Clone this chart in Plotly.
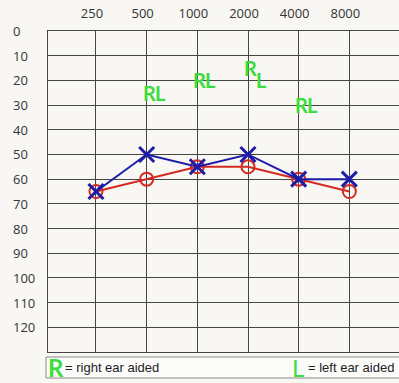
import plotly.graph_objects as go

freqs = ["250", "500", "1000", "2000", "4000", "8000"]
db_ticks = [0, 10, 20, 30, 40, 50, 60, 70, 80, 90, 100, 110, 120]
right_ear = [65, 60, 55, 55, 60, 65]   # red O
left_ear = [65, 50, 55, 50, 60, 60]    # blue X
aided_freq_idx = [1, 2, 3, 4]
right_aided = [25, 20, 15, 30]
left_aided = [25, 20, 20, 30]

xi = list(range(len(freqs)))
GREEN = "#3ddc3d"
BG = "#f8f7f3"

fig = go.Figure()
fig.add_trace(go.Scatter(
    x=xi, y=right_ear, mode="lines+markers",
    line=dict(color="#d42a22", width=2),
    marker=dict(symbol="circle-open", size=13, color="#d42a22", line=dict(width=2)),
    showlegend=False))
fig.add_trace(go.Scatter(
    x=xi, y=left_ear, mode="lines+markers",
    line=dict(color="#1c1ca8", width=2),
    marker=dict(symbol="x-thin-open", size=15, color="#1c1ca8", line=dict(width=3, color="#1c1ca8")),
    showlegend=False))

gfont = dict(family="Lato", size=20, color=GREEN, weight="bold")
annotations = []
for i, r, l in zip(aided_freq_idx, right_aided, left_aided):
    annotations.append(dict(x=i, y=r, xref="x", yref="y", text="R", showarrow=False,
                            xanchor="left", xshift=-6, font=gfont))
    annotations.append(dict(x=i, y=l, xref="x", yref="y", text="L", showarrow=False,
                            xanchor="left", xshift=6, font=gfont))

plot_left, plot_w, plot_top, plot_h = 48, 351, 31, 321
for v in db_ticks:
    annotations.append(dict(x=(11 - plot_left) / plot_w, y=v, xref="paper", yref="y",
                            text=str(v), showarrow=False, xanchor="left",
                            font=dict(family="Open Sans", size=13, color="#333")))

ky = -(367.5 - plot_top - plot_h) / plot_h
annotations += [
    dict(xref="paper", yref="paper", x=(46 - plot_left) / plot_w, y=ky, text="R", showarrow=False,
         xanchor="left", yanchor="middle", font=dict(family="Lato", size=24, color=GREEN, weight="bold")),
    dict(xref="paper", yref="paper", x=(63 - plot_left) / plot_w, y=ky, text="= right ear aided",
         showarrow=False, xanchor="left", yanchor="middle",
         font=dict(family="Liberation Sans", size=13, color="#222")),
    dict(xref="paper", yref="paper", x=(290 - plot_left) / plot_w, y=ky, text="L", showarrow=False,
         xanchor="left", yanchor="middle", font=dict(family="Lato", size=24, color=GREEN)),
    dict(xref="paper", yref="paper", x=(306 - plot_left) / plot_w, y=ky, text="= left ear aided",
         showarrow=False, xanchor="left", yanchor="middle",
         font=dict(family="Liberation Sans", size=13, color="#222")),
]

fig.update_layout(
    width=399, height=383,
    margin=dict(l=plot_left, r=0, t=plot_top, b=383 - plot_top - plot_h, autoexpand=False),
    paper_bgcolor=BG, plot_bgcolor=BG,
    annotations=annotations,
    shapes=[dict(type="rect", xref="paper", yref="paper",
                 x0=(46 - plot_left) / plot_w, x1=1.01,
                 y0=-(357 - plot_top - plot_h) / plot_h, y1=-(378 - plot_top - plot_h) / plot_h,
                 line=dict(color="#8a8a8a", width=1), fillcolor="#fbfbfa", layer="below")],
    xaxis=dict(range=[-0.947, 5.98], tickvals=xi, ticktext=freqs, side="top",
               showgrid=True, gridcolor="#454545", gridwidth=1.3, zeroline=False,
               showline=True, linecolor="#454545", linewidth=1.3, mirror=True,
               ticks="", tickfont=dict(family="Open Sans", size=13, color="#333"),
               ticklabelstandoff=7, ticklabelshift=-4, automargin=False, fixedrange=True),
    yaxis=dict(range=[130, 0], tickvals=db_ticks, showticklabels=False,
               showgrid=True, gridcolor="#454545", gridwidth=1.3, zeroline=False,
               showline=True, linecolor="#454545", linewidth=1.3, mirror=True,
               ticks="", automargin=False, fixedrange=True),
)
fig.write_html("out.html", config={"displayModeBar": False},
               post_script="document.body.style.margin='0';document.body.style.background='%s';" % BG)
